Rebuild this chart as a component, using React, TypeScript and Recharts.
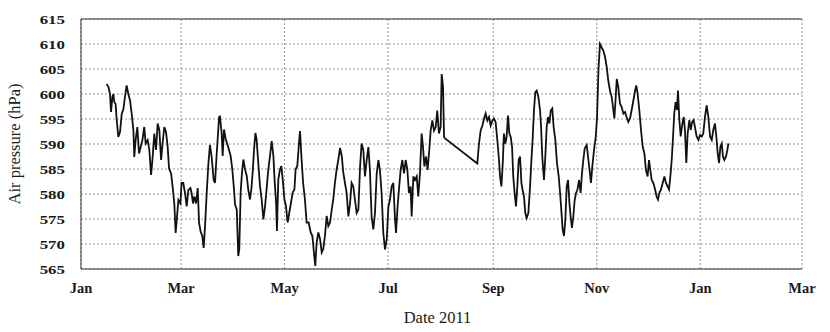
import { LineChart, Line, XAxis, YAxis, CartesianGrid, Label } from 'recharts';

// Air pressure readings, [day of 2011 (0 = Jan 1), hPa]
const janToMarch: [number, number][] = [
  [15.1, 602.0], [16.1, 601.5], [17.1, 600.0], [17.7, 596.4], [18.5, 599.4], [19.1, 600.0],
  [19.6, 598.4], [20.4, 598.0], [21.0, 595.0], [22.0, 591.4], [23.0, 592.4], [24.0, 596.0],
  [25.0, 597.0], [25.9, 599.4], [26.9, 601.7], [27.9, 600.0], [28.9, 598.7], [29.9, 596.0],
  [30.9, 592.7], [31.4, 587.4], [32.2, 590.8], [33.2, 593.4], [34.2, 588.1], [35.2, 589.4],
  [36.2, 590.8], [37.3, 593.4], [38.1, 590.1], [39.3, 590.8], [40.3, 588.8], [41.3, 583.8],
  [42.1, 586.8], [43.2, 592.1], [44.2, 588.8], [45.2, 594.1], [46.2, 592.7], [47.2, 586.8],
  [48.1, 590.1], [49.1, 593.4], [50.1, 592.4], [51.1, 589.4], [51.9, 585.1], [53.1, 584.1],
  [54.0, 581.5], [55.0, 578.1], [55.8, 572.2], [56.6, 575.5], [57.4, 578.8], [58.6, 578.1],
  [59.3, 582.2], [60.3, 582.2], [61.3, 580.2], [62.3, 577.5], [63.3, 580.8], [64.5, 581.2],
  [65.2, 580.2], [66.0, 578.1], [66.8, 579.5], [67.8, 578.1], [68.8, 581.2], [69.6, 574.2],
  [70.5, 572.5], [71.5, 571.6], [72.3, 569.2], [73.1, 573.5], [74.1, 580.2], [75.1, 586.1],
  [76.0, 589.8], [77.0, 587.5], [78.2, 582.8], [79.0, 582.2], [80.0, 588.1], [81.4, 595.4],
];

const marchToJune: [number, number][] = [
  [81.9, 595.5], [82.9, 592.2], [83.5, 587.6], [84.3, 592.9], [85.3, 591.0], [86.3, 589.9],
  [87.2, 588.9], [88.2, 587.6], [89.2, 584.9], [90.2, 580.9], [90.8, 577.9], [91.8, 576.9],
  [92.7, 567.6], [93.3, 569.0], [94.1, 580.3], [94.9, 584.3], [95.7, 586.9], [96.7, 584.9],
  [97.7, 583.6], [98.6, 580.9], [99.6, 578.9], [100.4, 580.9], [101.2, 584.3], [102.0, 588.9],
  [102.8, 592.2], [103.5, 591.0], [104.5, 586.2], [105.5, 581.6], [106.5, 578.9], [107.5, 574.9],
  [108.5, 577.6], [109.4, 580.9], [110.4, 584.9], [111.4, 587.6], [112.4, 590.6], [113.4, 587.6],
  [114.2, 582.3], [115.0, 578.3], [115.5, 572.6], [116.3, 582.9], [117.3, 584.9], [118.1, 585.6],
  [118.9, 582.9], [119.9, 578.9], [120.8, 577.6], [121.8, 574.3], [122.8, 576.3], [123.8, 578.3],
  [124.8, 580.3], [125.8, 580.9], [126.5, 584.9], [127.5, 585.6], [128.5, 590.2], [129.1, 592.6],
  [129.9, 587.6], [130.9, 582.3], [132.0, 578.9], [133.0, 574.3], [134.2, 574.3], [135.4, 572.3],
  [136.4, 571.6], [137.3, 568.3], [138.1, 565.6], [138.9, 570.3], [139.9, 572.3], [140.9, 571.0],
  [141.9, 568.3], [142.8, 569.0], [143.8, 571.6], [144.8, 575.6], [145.8, 573.6], [146.8, 574.3],
  [147.8, 576.9], [148.7, 578.9], [149.7, 582.3], [150.7, 584.9], [151.7, 586.9], [152.7, 589.2],
  [153.7, 587.6], [154.6, 584.3],
];

const juneToAugust: [number, number][] = [
  [155.6, 582.2], [156.6, 580.2], [157.6, 575.5], [158.6, 578.2], [159.5, 582.2], [160.5, 581.5],
  [161.5, 578.8], [162.5, 576.2], [163.5, 576.9], [164.5, 585.5], [165.4, 590.1], [166.4, 588.8],
  [167.4, 583.5], [168.4, 586.8], [169.4, 589.4], [170.3, 584.8], [171.3, 575.5], [172.3, 572.9],
  [173.3, 576.2], [174.3, 584.1], [175.3, 586.8], [176.2, 584.8], [177.2, 580.2], [178.2, 572.2],
  [179.2, 568.9], [180.2, 570.9], [181.2, 577.5], [182.1, 578.8], [183.1, 581.5], [184.1, 582.2],
  [185.1, 574.9], [185.7, 572.2], [186.5, 576.9], [187.4, 580.8], [188.4, 584.8], [189.4, 586.8],
  [190.4, 584.1], [191.4, 586.8], [192.4, 584.8], [193.3, 580.2], [194.3, 581.5], [194.9, 575.5],
  [195.9, 583.5], [196.9, 582.8], [197.9, 583.5], [198.8, 579.5], [199.8, 584.1], [200.8, 592.1],
  [201.6, 589.4], [202.4, 585.5], [203.4, 587.5], [204.3, 584.8], [205.3, 588.8], [206.1, 592.7],
  [207.1, 594.7], [208.1, 592.7], [209.1, 593.4], [210.0, 596.7], [211.0, 592.1], [212.0, 593.4],
  [212.6, 604.0], [213.4, 601.4], [214.0, 591.4], [214.6, 591.1],
];

const augustToNovember: [number, number][] = [
  [233.6, 586.1], [234.6, 590.1], [235.6, 592.7], [236.6, 593.7], [237.6, 595.1], [238.5, 596.1],
  [239.5, 594.7], [240.5, 595.4], [241.5, 593.7], [242.5, 594.7], [243.4, 595.1], [244.4, 594.4],
  [245.4, 590.8], [246.4, 586.8], [247.0, 583.5], [247.8, 581.5], [248.6, 586.1], [249.3, 592.1],
  [250.1, 590.1], [250.9, 591.4], [251.7, 595.7], [252.5, 592.1], [253.3, 591.4], [254.1, 589.4],
  [254.8, 583.5], [255.6, 580.2], [256.4, 577.5], [257.2, 581.5], [258.0, 586.8], [258.8, 587.5],
  [259.6, 582.2], [260.3, 580.8], [261.1, 579.5], [261.9, 576.2], [262.7, 575.2], [263.7, 576.2],
  [264.7, 581.5], [265.5, 586.8], [266.2, 590.8], [267.0, 596.7], [267.8, 600.4], [268.6, 600.7],
  [269.6, 599.4], [270.6, 596.7], [271.2, 593.4], [271.9, 587.5], [272.9, 582.8], [273.7, 587.5],
  [274.5, 593.4], [275.3, 595.4], [276.1, 594.1], [276.9, 596.7], [277.8, 597.1], [278.6, 593.4],
  [279.6, 590.8], [280.6, 586.1], [281.6, 583.5], [282.4, 580.2], [283.1, 576.9], [283.9, 572.9],
  [284.7, 571.6], [285.5, 574.9], [286.3, 581.5], [287.1, 582.8], [287.9, 578.2], [288.6, 575.5],
  [289.4, 573.2], [290.2, 575.5], [291.0, 578.8], [291.8, 580.2], [292.6, 580.8], [293.6, 582.8],
  [294.5, 580.2], [295.3, 584.1], [296.1, 586.8], [296.9, 589.1], [298.1, 589.8], [299.1, 586.8],
  [300.0, 584.1], [300.6, 582.2], [301.4, 585.5], [302.4, 588.8], [303.4, 591.4], [304.2, 595.4],
];

const novemberToJanuary: [number, number][] = [
  [305.0, 604.7], [305.9, 610.0], [306.9, 609.3], [307.9, 608.7], [308.9, 607.4], [309.9, 605.4],
  [310.8, 602.7], [311.8, 600.7], [312.8, 599.4], [313.8, 596.8], [314.4, 595.1], [315.2, 599.4],
  [315.8, 603.0], [316.7, 601.4], [317.7, 598.1], [318.7, 597.4], [319.7, 596.1], [320.7, 596.4],
  [321.6, 595.4], [322.6, 594.4], [323.6, 595.1], [324.6, 596.8], [325.6, 598.7], [326.6, 600.7],
  [327.3, 601.7], [328.1, 600.1], [329.1, 596.8], [330.1, 592.8], [331.1, 589.5], [332.1, 588.1],
  [333.0, 584.8], [334.0, 583.5], [334.8, 586.8], [335.6, 584.8], [336.4, 582.8], [337.4, 582.2],
  [338.4, 580.9], [339.3, 579.5], [340.1, 578.9], [340.9, 580.2], [341.9, 580.9], [342.9, 582.2],
  [343.9, 583.5], [344.8, 582.2], [345.8, 581.5], [346.6, 580.9], [347.4, 583.5], [348.2, 586.8],
  [349.0, 591.5], [349.7, 596.1], [350.5, 598.4], [351.3, 596.8], [351.9, 600.7], [352.7, 594.8],
  [353.5, 591.5], [354.5, 594.1], [355.3, 595.4], [356.0, 592.8], [356.8, 586.2], [357.6, 592.1],
  [358.6, 594.8], [359.4, 592.8], [360.2, 594.4], [361.1, 594.8], [361.9, 593.4], [362.9, 591.5],
  [363.9, 590.8], [364.9, 591.8], [365.9, 591.5], [366.8, 592.1], [367.8, 595.4], [368.8, 597.7],
  [369.8, 595.4], [370.8, 591.5], [371.8, 590.8], [372.7, 592.8], [373.7, 594.1], [374.5, 591.5],
  [375.3, 588.1], [376.1, 586.2], [376.9, 589.5], [377.7, 590.1], [378.4, 587.5], [379.2, 586.8],
  [380.2, 587.5], [381.0, 588.8], [381.6, 590.1],
];

// Jan 1 2011 .. Mar 1 2012 in days
const monthTicks = [0, 59, 120, 181, 243, 304, 365, 425];
const monthLabels = ['Jan', 'Mar', 'May', 'Jul', 'Sep', 'Nov', 'Jan', 'Mar'];
const pressureTicks = [565, 570, 575, 580, 585, 590, 595, 600, 605, 610, 615];

const data = [...janToMarch, ...marchToJune, ...juneToAugust, ...augustToNovember, ...novemberToJanuary]
  .map(([day, hPa]) => ({ day, hPa }));

// five minor ticks between each pair of month labels
const minorTicks = monthTicks.slice(0, -1).flatMap((d, i) =>
  [1, 2, 3, 4, 5].map((k) => d + ((monthTicks[i + 1] - d) * k) / 6)
);

const serif = 'Liberation Serif, Times New Roman, serif';

function PressureTick({ x, y, payload }: any) {
  return (
    <text
      transform={`translate(${x},${y}) scale(1.3,1)`}
      textAnchor="end"
      dy="0.36em"
      fontFamily={serif}
      fontWeight="bold"
      fontSize={13}
      fill="#1a1a1a"
    >
      {payload.value}
    </text>
  );
}

export default function App() {
  return (
    <div style={{ position: 'absolute', left: 0, top: 0, background: '#fff' }}>
      <LineChart width={830} height={332} data={data} margin={{ top: 19, right: 28, bottom: 0, left: 0 }}>
        <CartesianGrid stroke="#8a9a9a" strokeDasharray="2 2" />
        <XAxis
          dataKey="day"
          type="number"
          domain={[0, 425]}
          ticks={monthTicks}
          interval={0}
          tickFormatter={(v: number) => monthLabels[monthTicks.indexOf(v)]}
          height={63}
          tickSize={0}
          tickMargin={14}
          axisLine={{ stroke: '#333' }}
          tick={{ fontFamily: serif, fontWeight: 'bold', fontSize: 14.5, fill: '#1a1a1a' }}
        >
          <Label
            value="Date 2011"
            position="insideBottom"
            offset={9}
            dx={-4}
            style={{ fontFamily: serif, fontSize: 16.5, fill: '#1a1a1a' }}
          />
        </XAxis>
        <XAxis
          xAxisId="minorBottom"
          dataKey="day"
          type="number"
          domain={[0, 425]}
          ticks={minorTicks}
          interval={0}
          orientation="bottom"
          mirror
          tick={false}
          axisLine={false}
          tickSize={3}
          tickLine={{ stroke: '#333' }}
        />
        <XAxis
          xAxisId="minorTop"
          dataKey="day"
          type="number"
          domain={[0, 425]}
          ticks={minorTicks}
          interval={0}
          orientation="top"
          mirror
          tick={false}
          axisLine={{ stroke: '#333' }}
          tickSize={3}
          tickLine={{ stroke: '#333' }}
        />
        <YAxis
          type="number"
          domain={[565, 615]}
          ticks={pressureTicks}
          interval={0}
          width={81}
          tickSize={0}
          tickMargin={16}
          axisLine={{ stroke: '#333' }}
          tick={<PressureTick />}
        >
          <Label
            value="Air pressure (hPa)"
            angle={-90}
            position="insideLeft"
            offset={14}
            style={{ fontFamily: serif, fontSize: 16.5, fill: '#1a1a1a', textAnchor: 'middle' }}
          />
        </YAxis>
        <YAxis
          yAxisId="frame"
          type="number"
          domain={[565, 615]}
          orientation="right"
          mirror
          width={0}
          tick={false}
          tickLine={false}
          axisLine={{ stroke: '#333' }}
        />
        <Line
          type="linear"
          dataKey="hPa"
          stroke="#111"
          strokeWidth={1.8}
          dot={false}
          isAnimationActive={false}
        />
      </LineChart>
    </div>
  );
}
